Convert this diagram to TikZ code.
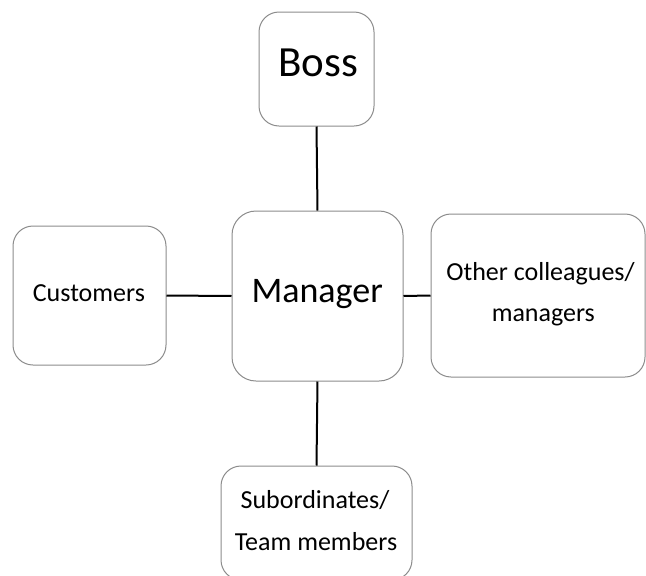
\documentclass[tikz,border=0pt]{standalone}
\usepackage{fontspec}
\setmainfont{Carlito}
\begin{document}
\begin{tikzpicture}[x=1pt,y=-1pt,
  box/.style={draw=black!45, line width=1pt, rounded corners=20pt, fill=white, inner sep=0pt},
  txt/.style={anchor=base, inner sep=0pt},
  big/.style={font=\fontsize{43}{50}\selectfont},
  mid/.style={font=\fontsize{36}{42}\selectfont},
  small/.style={font=\fontsize{26}{42}\selectfont},
  conn/.style={draw=black, line width=2pt}]
\clip (0,0) rectangle (646,576);
\fill[white] (0,0) rectangle (646,576);
\node[box, minimum width=115pt, minimum height=114pt] (boss) at (316.5,69) {};
\node[box, minimum width=171pt, minimum height=170pt, rounded corners=24pt] (mgr) at (317.5,296) {};
\node[box, minimum width=153pt, minimum height=139pt] (cust) at (89.5,295.5) {};
\node[box, minimum width=214pt, minimum height=163pt] (oth) at (538,295.5) {};
\node[box, minimum width=191pt, minimum height=114pt] (sub) at (316.5,523) {};
\node[txt, big] (bossT) at (318,76.7) {Boss};
\node[txt, mid] (mgrT) at (317.2,302.3) {Manager};
\node[txt, small] (custT) at (88.9,301.7) {Customers};
\node[txt, small] (othT1) at (540.5,280) {Other colleagues/};
\node[txt, small] (othT2) at (543.3,321.7) {managers};
\node[txt, small] (subT1) at (315,508.3) {Subordinates/};
\node[txt, small] (subT2) at (316,550) {Team members};
\draw[conn] (boss.south) -- (mgr.north);
\draw[conn] (cust.east) -- (mgr.west);
\draw[conn] (mgr.east) -- (oth.west);
\draw[conn] (mgr.south) -- (sub.north);
\end{tikzpicture}
\end{document}
